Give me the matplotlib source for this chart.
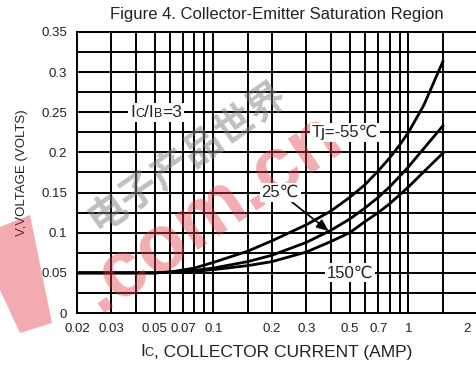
import numpy as np
import matplotlib
matplotlib.use("Agg")
import matplotlib.pyplot as plt
from matplotlib.offsetbox import TextArea, HPacker, AnnotationBbox
from matplotlib.patches import Polygon

plt.rcParams['font.family'] = ['Liberation Sans', 'DejaVu Sans']

# collector current (A) and Vce(sat) (V)
ic = [0.02, 0.03, 0.04, 0.05, 0.06, 0.08, 0.1, 0.15, 0.2, 0.3, 0.4, 0.5, 0.6, 0.7, 0.8, 0.9, 1.0, 1.2, 1.5]
v_m55 = [0.050, 0.050, 0.050, 0.050, 0.051, 0.056, 0.063, 0.077, 0.090, 0.110, 0.127, 0.144, 0.160, 0.177, 0.193, 0.209, 0.225, 0.259, 0.313]
v_25 = [0.050, 0.050, 0.050, 0.050, 0.051, 0.053, 0.056, 0.064, 0.072, 0.088, 0.103, 0.117, 0.131, 0.144, 0.157, 0.170, 0.182, 0.205, 0.233]
v_150 = [0.050, 0.050, 0.050, 0.050, 0.051, 0.052, 0.054, 0.059, 0.064, 0.076, 0.089, 0.100, 0.114, 0.125, 0.136, 0.147, 0.157, 0.176, 0.199]

xtick_vals = [0.02, 0.03, 0.05, 0.07, 0.1, 0.2, 0.3, 0.5, 0.7, 1, 2]
xtick_labels = ["0.02", "0.03", "0.05", "0.07", "0.1", "0.2", "0.3", "0.5", "0.7", "1", "2"]
ytick_vals = [0, 0.05, 0.1, 0.15, 0.2, 0.25, 0.3, 0.35]
ytick_labels = ["0", "0.05", "0.1", "0.15", "0.2", "0.25", "0.3", "0.35"]

grid_x = [0.03, 0.04, 0.05, 0.06, 0.07, 0.08, 0.09, 0.1, 0.15, 0.2, 0.3, 0.4, 0.5, 0.6, 0.7, 0.8, 0.9, 1.0, 1.5]
grid_y = np.arange(0.025, 0.35, 0.025)

fig = plt.figure(figsize=(4.76, 3.67), dpi=100)
ax = fig.add_axes([77 / 476, 54 / 367, 399 / 476, 281 / 367])
ax.set_xscale('log')
ax.set_xlim(0.02, 2.22)
ax.set_ylim(0, 0.35)

for gx in grid_x:
    ax.axvline(gx, color='black', lw=1.4, zorder=1)
for gy in grid_y:
    ax.axhline(gy, color='black', lw=1.4, zorder=1)

ax.plot(ic, v_m55, color='black', lw=2.0, zorder=4)
ax.plot(ic, v_25, color='black', lw=2.0, zorder=4)
ax.plot(ic, v_150, color='black', lw=2.0, zorder=4)

ax.set_xticks(xtick_vals)
ax.set_xticklabels(xtick_labels)
ax.xaxis.set_minor_locator(plt.NullLocator())
ax.set_yticks(ytick_vals)
ax.set_yticklabels(ytick_labels)
ax.tick_params(length=0, labelsize=9.5, colors='#222222')
ax.tick_params(axis='x', pad=7)
ax.tick_params(axis='y', pad=7)
for s in ['left', 'bottom', 'top']:
    ax.spines[s].set_linewidth(1.4)
ax.spines['right'].set_visible(False)


def small_cap_label(parts, size):
    # parts: list of (text, is_small)
    boxes = [TextArea(t, textprops=dict(size=size * 0.72 if small else size, color='#222222'))
             for t, small in parts]
    return HPacker(children=boxes, align='baseline', pad=0, sep=0)


# watermarks (drawn above curves, below the white label boxes)
ax.text(187 / 476, 1 - 157 / 367, "电子产品世界", transform=fig.transFigure, rotation=35,
        ha='center', va='center', fontsize=28, fontweight='bold',
        family=['Noto Sans CJK SC', 'DejaVu Sans'], color='#808080', alpha=0.5,
        zorder=5, clip_on=False)
ax.text(212 / 476, 1 - 213 / 367, ".com.cn", transform=fig.transFigure, rotation=34,
        ha='center', va='center', fontsize=57, fontweight='bold', color='#e03a45',
        alpha=0.42, zorder=5, clip_on=False)
band = Polygon([(0, 367 - 227), (30, 367 - 215), (52, 367 - 323), (20, 367 - 333), (0, 367 - 290)],
               closed=True, transform=None, fc='#e03a45', ec='none', alpha=0.42, zorder=10)
fig.add_artist(band)

# Ic/Ib = 3 label with white background
lab = small_cap_label([("I", False), ("C", True), ("/I", False), ("B", True), ("=3", False)], 12.5)
ab = AnnotationBbox(lab, (0.051, 0.25), xycoords='data', frameon=True,
                    bboxprops=dict(fc='white', ec='none'), pad=0.15, zorder=6)
ax.add_artist(ab)

bb = dict(fc='white', ec='none', pad=1.5)
ax.text(0.474, 0.225, "Tj=-55℃", ha='center', va='center', fontsize=12,
        color='#222222', bbox=bb, zorder=6)
ax.text(0.50, 0.05, "150℃", ha='center', va='center', fontsize=12,
        color='#222222', bbox=bb, zorder=6)
ax.annotate("25℃", xy=(0.39, 0.102), xytext=(0.22, 0.15),
            ha='center', va='center', fontsize=12, color='#222222',
            bbox=bb, zorder=6,
            arrowprops=dict(arrowstyle='-|>,head_length=0.6,head_width=0.25',
                            color='black', lw=1.2, relpos=(0.75, 0.0),
                            shrinkA=0, shrinkB=0))

fig.text(277 / 476, 1 - 15 / 367, "Figure 4. Collector-Emitter Saturation Region",
         ha='center', va='center', fontsize=12, color='#222222')
fig.text(22 / 476, 1 - 173 / 367, "V,VOLTAGE (VOLTS)", rotation=90,
         ha='center', va='center', fontsize=9.5, color='#222222')

xl = small_cap_label([("I", False), ("C", True), (", COLLECTOR CURRENT (AMP)", False)], 12.5)
ab2 = AnnotationBbox(xl, (276, 15), xycoords='figure pixels', frameon=False,
                     box_alignment=(0.5, 0.5), pad=0)
fig.add_artist(ab2)

fig.savefig("out.png", dpi=100)
